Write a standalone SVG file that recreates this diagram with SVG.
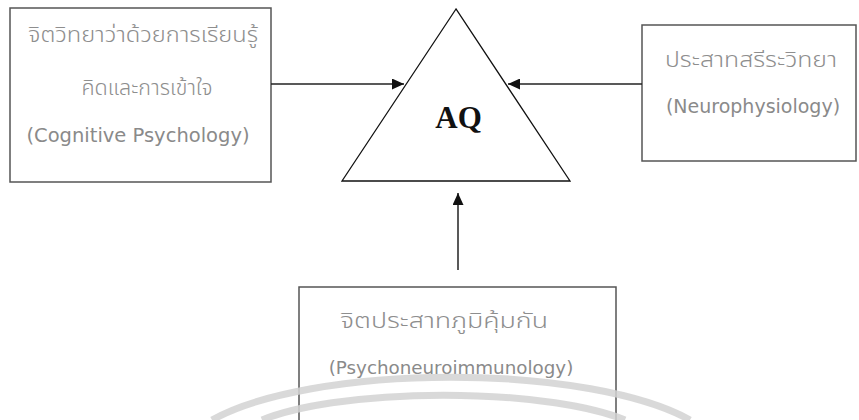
<svg xmlns="http://www.w3.org/2000/svg" width="859" height="420" viewBox="0 0 859 420">
<defs>
<style>
.box{fill:#fff;stroke:#555;stroke-width:1.5}
.th{font-family:"Noto Sans Thai","Noto Sans","DejaVu Sans",sans-serif;font-weight:300;fill:#8e8e8e;text-anchor:middle}
.en{font-family:"DejaVu Sans","Liberation Sans",sans-serif;fill:#8a8a8a;text-anchor:middle}
.wm{fill:none;stroke:#d2d2d2;stroke-width:7;opacity:0.85}
.conn{stroke:#222;stroke-width:1.5;fill:none}
</style>
<marker id="ah" viewBox="0 0 12 11" refX="12" refY="5.5" markerWidth="12" markerHeight="11" markerUnits="userSpaceOnUse" orient="auto">
<path d="M0,0 L12,5.5 L0,11 Z" fill="#111"/>
</marker>
</defs>
<rect width="859" height="420" fill="#fff"/>
<g id="node-cognitive">
<rect class="box" x="10" y="8" width="261" height="174"/>
<text class="th" x="143" y="42" font-size="21" textLength="230" lengthAdjust="spacingAndGlyphs">จิตวิทยาว่าด้วยการเรียนรู้</text>
<text class="th" x="147" y="95" font-size="21" textLength="131" lengthAdjust="spacingAndGlyphs">คิดและการเข้าใจ</text>
<text class="en" x="138" y="142" font-size="19.5">(Cognitive Psychology)</text>
</g>
<g id="node-neuro">
<rect class="box" x="642" y="25" width="214" height="136"/>
<text class="th" x="751" y="67" font-size="21" textLength="172" lengthAdjust="spacingAndGlyphs">ประสาทสรีระวิทยา</text>
<text class="en" x="753" y="113" font-size="19">(Neurophysiology)</text>
</g>
<g id="node-pni">
<rect class="box" x="299" y="287" width="317" height="150"/>
<text class="th" x="444" y="328" font-size="21" textLength="208" lengthAdjust="spacingAndGlyphs">จิตประสาทภูมิคุ้มกัน</text>
<text class="en" x="451" y="374" font-size="18.3">(Psychoneuroimmunology)</text>
</g>
<g id="node-aq">
<polygon points="456,9 342,181 570,181" fill="#fff" stroke="#111" stroke-width="1.3"/>
<text x="458.5" y="128" font-family="Liberation Serif, serif" font-weight="bold" font-size="31" text-anchor="middle" fill="#111">AQ</text>
</g>
<g id="connectors">
<line class="conn" x1="271" y1="84" x2="404" y2="84" marker-end="url(#ah)"/>
<line class="conn" x1="642" y1="84" x2="508" y2="84" marker-end="url(#ah)"/>
<line class="conn" x1="458" y1="270" x2="458" y2="193" marker-end="url(#ah)"/>
</g>
<g id="watermark">
<path class="wm" d="M212,420 A270,80 0 0 1 690,420"/>
<path class="wm" d="M262,420 A210,50 0 0 1 625,420"/>
</g>
</svg>
